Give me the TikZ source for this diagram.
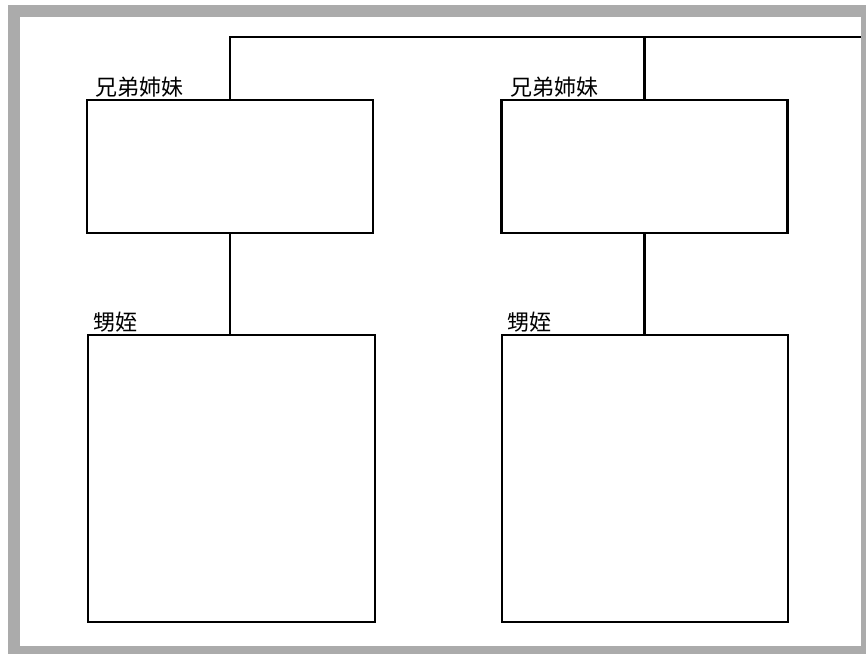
\documentclass[tikz,border=0pt]{standalone}
\usepackage{fontspec}
\newfontfamily\jpfont{Noto Sans CJK JP}
\definecolor{framegray}{HTML}{ABABAB}
\begin{document}
\begin{tikzpicture}[x=1pt,y=-1pt,
  famebox/.style={draw=black, line width=2.3pt, fill=white, inner sep=0pt, minimum width=286pt},
  famlabel/.style={anchor=base west, inner sep=0pt, font=\jpfont\fontsize{22pt}{22pt}\selectfont},
  link/.style={draw=black, line width=2.3pt}]
\useasboundingbox (0,0) rectangle (866,654);
\fill[framegray] (8,5) rectangle (866,654);
\fill[white] (20,17) rectangle (861,646);
% sibling boxes
\node[famebox, minimum height=133pt] (s1) at (230,166.5) {};
\node[famebox, minimum height=133pt] (s2) at (644.5,166.5) {};
% nephew/niece boxes
\node[famebox, minimum width=287pt, minimum height=287pt] (n1) at (231.5,478.5) {};
\node[famebox, minimum width=286pt, minimum height=287pt] (n2) at (645,478.5) {};
% labels
\node[famlabel] (l1) at (95,95) {兄弟姉妹};
\node[famlabel] (l2) at (510,95) {兄弟姉妹};
\node[famlabel] (l3) at (93,330) {甥姪};
\node[famlabel] (l4) at (507,330) {甥姪};
% connectors
\coordinate (topR) at (861,37);
\draw[link] (s1.north) |- (topR);
\draw[link] (s2.north) -- (s2.north |- topR);
\draw[link] (s1.south) -- (s1.south |- n1.north);
\draw[link] (s2.south) -- (s2.south |- n2.north);
\end{tikzpicture}
\end{document}
